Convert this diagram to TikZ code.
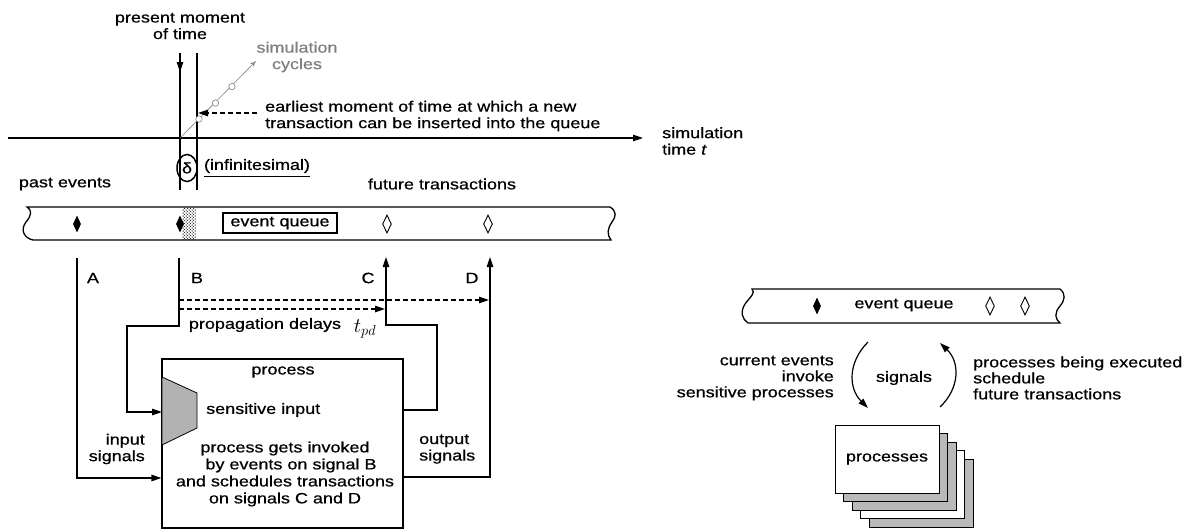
\documentclass[tikz,border=0pt]{standalone}
\usepackage{fontspec}
\setmainfont{Liberation Sans}[FakeStretch=1.2,FakeBold=0.6]
\usetikzlibrary{arrows.meta,shapes.geometric,patterns,calc}
\begin{document}
\begin{tikzpicture}[x=1pt,y=-1pt,
  txt/.style={font=\fontsize{15}{16.5}\selectfont, inner sep=0pt},
  sig/.style={line width=1.2pt},
  arr/.style={-{Triangle[length=10pt,width=6.5pt]}},
  fdia/.style={diamond, fill=black, minimum width=8pt, minimum height=17pt, inner sep=0pt},
  odia/.style={diamond, draw, line width=0.9pt, fill=white, minimum width=9pt, minimum height=18pt, inner sep=0pt},
  queue/.style={line width=1.3pt, fill=white},
  stackbox/.style={draw, line width=1pt, minimum width=104pt, minimum height=68pt, inner sep=0pt},
  graybox/.style={stackbox, fill=gray!55},
  whitebox/.style={stackbox, fill=white},
]
\useasboundingbox (0,0) rectangle (1193,531);

% ---------- time axis part ----------
\node[txt, align=center] (present) at (180,26) {present moment\\of time};
\coordinate (p1t) at (180,53); \coordinate (p1b) at (180,190);
\coordinate (p2t) at (197,53); \coordinate (p2b) at (197,190);
\coordinate (p1a) at (180,72);
\draw[sig] (p1t) -- (p1b);
\draw[sig, arr] (p1t) -- (p1a);
\draw[sig] (p2t) -- (p2b);

\coordinate (axL) at (8,138); \coordinate (axR) at (643,138);
\draw[sig, arr] (axL) -- (axR);
\node[txt, align=left, anchor=west] (simt) at (662,141) {simulation\\time \textit{t}};

% simulation cycles
\coordinate (c0) at (180,138); \coordinate (c1) at (256,61);
\draw[gray, line width=0.6pt, -{Stealth[length=6pt,open]}] (c0) -- (c1);
\foreach \p in {(199,119),(215.5,103),(232,86.5)}
  \draw[gray, fill=white, line width=0.6pt] \p circle (3.2pt);
\node[txt, text=gray, align=center] (cyc) at (297,57) {simulation\\cycles};

% earliest moment
\node[txt, align=left, anchor=west] (earliest) at (265,116) {earliest moment of time at which a new\\transaction can be inserted into the queue};
\coordinate (ea) at (257,113); \coordinate (eb) at (198,113);
\draw[sig, dash pattern=on 5pt off 3pt, arr] (ea) -- (eb);

% delta
\node[ellipse, draw, line width=1.5pt, minimum width=20pt, minimum height=27pt, inner sep=0pt, font=\fontsize{15}{16}\selectfont] (delta) at (187,168) {δ};
\node[txt] (inf) at (257,166) {(infinitesimal)};
\draw[line width=1.3pt] ($(inf.south west)+(0,3)$) -- ($(inf.south east)+(0,3)$);

\node[txt] (past) at (65,184) {past events};
\node[txt] (future) at (442,184) {future transactions};

% ---------- left event queue ----------
\draw[queue] (27,207) -- (610,207) .. controls (617,211) and (616,217) .. (612,222)
  .. controls (607,229) and (607,235) .. (611,240) -- (33,240)
  .. controls (24,238) and (20,230) .. (26,222) .. controls (32,215) and (32,210) .. (27,207) -- cycle;
\fill[pattern=crosshatch dots, pattern color=black] (182,208) rectangle (196,239);
\fill[pattern=dots, pattern color=black] (182,208) rectangle (196,239);
\node[fdia] (pe1) at (77,224) {};
\node[fdia] (pe2) at (180,224) {};
\node[odia] (fe1) at (387,224) {};
\node[odia] (fe2) at (488,224) {};
\node[txt, draw, line width=2.5pt, minimum width=114pt, minimum height=20pt] (eq) at (280,223) {event queue};

% ---------- process ----------
\node[draw, line width=1.2pt, minimum width=241pt, minimum height=169pt, inner sep=0pt] (proc) at (282.5,443.5) {};
\node[txt] (proclbl) at (283,372) {process};
\filldraw[fill=gray!60, line width=0.8pt] (162,377) -- (197,393) -- (197,428) -- (162,445) -- cycle;
\coordinate (trap) at (162,412);
\node[txt, anchor=west] (sens) at (206,410) {sensitive input};
\node[txt, align=center, font=\fontsize{15}{17}\selectfont] (ptext) at (285,474)
  {process gets invoked\\\hspace*{12pt}by events on signal B\\and schedules transactions\\on signals C and D};
\node[txt, align=right, anchor=east] (insig) at (145,449) {input\\signals};
\node[txt, align=left, anchor=west] (outsig) at (419,449) {output\\signals};

% signals A,B,C,D
\coordinate (At) at (77,258); \coordinate (Ab) at (77,478);
\coordinate (Bt) at (179,258); \coordinate (B1) at (179,326); \coordinate (B2) at (127,326); \coordinate (B3) at (127,412);
\coordinate (Ct) at (386,257); \coordinate (C1) at (386,325); \coordinate (C2) at (437,325); \coordinate (C3) at (437,410); \coordinate (C4) at (403,410);
\coordinate (Dt) at (490,257); \coordinate (D1) at (490,477); \coordinate (D2) at (403,477);
\draw[sig, arr] (At) -- (Ab) -- (Ab -| proc.west);
\draw[sig, arr] (Bt) -- (B1) -- (B2) -- (B3) -- (trap);
\draw[sig, arr] (C4) -- (C3) -- (C2) -- (C1) -- (Ct);
\draw[sig, arr] (D2) -- (D1) -- (Dt);
\node[txt] (lA) at (93,278) {A};
\node[txt] (lB) at (197,278) {B};
\node[txt] (lC) at (368,278) {C};
\node[txt] (lD) at (472,278) {D};

\coordinate (d1s) at (179,300); \coordinate (d1e) at (489,300);
\coordinate (d2s) at (179,309); \coordinate (d2e) at (385,309);
\draw[sig, dash pattern=on 5pt off 3pt, arr] (d1s) -- (d1e);
\draw[sig, dash pattern=on 5pt off 3pt, arr] (d2s) -- (d2e);
\node[txt] (prop) at (265,325) {propagation delays};
\node[inner sep=0pt, font=\fontsize{20}{20}\selectfont] (tpd) at (365,329) {$t_{pd}$};

% ---------- right diagram ----------
\draw[queue] (752,289) -- (1060,289) .. controls (1066,294) and (1065,300) .. (1060,306)
  .. controls (1054,313) and (1055,319) .. (1060,323) -- (748,323)
  .. controls (742,319) and (740,312) .. (745,304) .. controls (750,297) and (756,293) .. (752,289) -- cycle;
\node[fdia] (rpe) at (817,306) {};
\node[txt] (req) at (904,305) {event queue};
\node[odia] (rfe1) at (990,306) {};
\node[odia] (rfe2) at (1025,306) {};

\coordinate (la) at (868,342); \coordinate (lb) at (868,408);
\coordinate (ra) at (940,407); \coordinate (rb) at (940,343);
\draw[sig, arr] (la) .. controls (848,362) and (848,388) .. (lb);
\draw[sig, arr] (ra) .. controls (960,388) and (960,362) .. (rb);
\node[txt] (rsig) at (904,378) {signals};
\node[txt, align=right, anchor=east, font=\fontsize{15}{16}\selectfont] (rleft) at (834,378) {current events\\invoke\\sensitive processes};
\node[txt, align=left, anchor=west, font=\fontsize{15}{16}\selectfont] (rright) at (973,378) {processes being executed\\schedule\\future transactions};

\node[graybox] (s4) at (921,493) {};
\node[whitebox] (s3) at (912.5,484.5) {};
\node[graybox] (s2) at (904,476) {};
\node[graybox] (s1) at (895.5,467.5) {};
\node[whitebox, txt] (s0) at (887,459) {processes};
\end{tikzpicture}
\end{document}
